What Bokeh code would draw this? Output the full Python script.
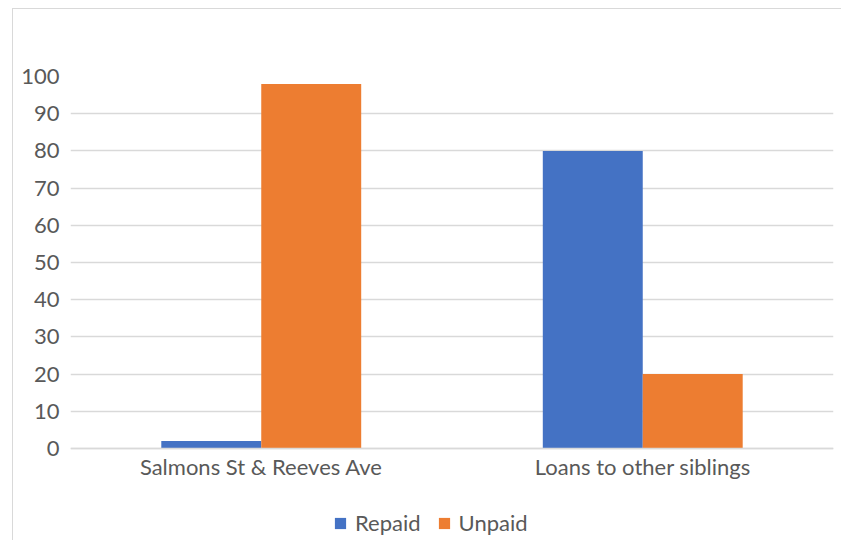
from bokeh.plotting import figure
from bokeh.models import FactorRange, Legend, LegendItem, ColumnDataSource, Range1d
from bokeh.transform import dodge
from bokeh.embed import file_html
from bokeh.resources import INLINE

categories = ["Salmons St & Reeves Ave", "Loans to other siblings"]
repaid = [2, 80]
unpaid = [98, 20]
series = ["Repaid", "Unpaid"]
yticks = [0, 10, 20, 30, 40, 50, 60, 70, 80, 90, 100]

src = ColumnDataSource(data=dict(cat=categories, repaid=repaid, unpaid=unpaid))

FONT = "Lato"
TXT = "#595959"
GRID = "#d9d9d9"
FS = "22px"

p = figure(x_range=FactorRange(*categories, range_padding=0), y_range=Range1d(-25, 100),
           width=829, height=532, output_backend="svg", toolbar_location=None,
           min_border_left=57, min_border_right=9, min_border_top=67, min_border_bottom=0)
p.styles = {"margin-left": "12px", "margin-top": "8px",
            "border-left": "1.5px solid #d9d9d9", "border-top": "1.5px solid #d9d9d9"}

bw = 0.262
r1 = p.vbar(x=dodge("cat", -bw / 2, range=p.x_range), top="repaid", width=bw, source=src,
            fill_color="#4472C4", line_color=None)
r2 = p.vbar(x=dodge("cat", bw / 2, range=p.x_range), top="unpaid", width=bw, source=src,
            fill_color="#ED7D31", line_color=None)

p.outline_line_color = None
p.xgrid.grid_line_color = None
p.ygrid.grid_line_color = GRID
p.ygrid.grid_line_width = 1.3
p.yaxis.ticker = yticks
p.yaxis.axis_line_color = None
p.yaxis.major_tick_line_color = None
p.yaxis.minor_tick_line_color = None
p.yaxis.major_label_text_font = FONT
p.yaxis.major_label_text_font_size = FS
p.yaxis.major_label_text_color = TXT
p.yaxis.major_label_standoff = 5
p.xaxis.fixed_location = 0
p.xaxis.axis_line_color = GRID
p.xaxis.axis_line_width = 1.3
p.xaxis.major_tick_line_color = None
p.xaxis.minor_tick_line_color = None
p.xaxis.major_label_text_font = FONT
p.xaxis.major_label_text_font_size = FS
p.xaxis.major_label_text_color = TXT
p.xaxis.major_label_standoff = -2

legend = Legend(items=[LegendItem(label=series[0], renderers=[r1]),
                       LegendItem(label=series[1], renderers=[r2])],
                orientation="horizontal", location=(263, 5), border_line_color=None,
                background_fill_alpha=0, label_text_font=FONT, label_text_font_size=FS,
                label_text_color=TXT, glyph_width=14, glyph_height=14, spacing=16,
                label_standoff=8, padding=0, margin=0)
p.add_layout(legend, "center")

open("out.html", "w").write(file_html(p, INLINE))
